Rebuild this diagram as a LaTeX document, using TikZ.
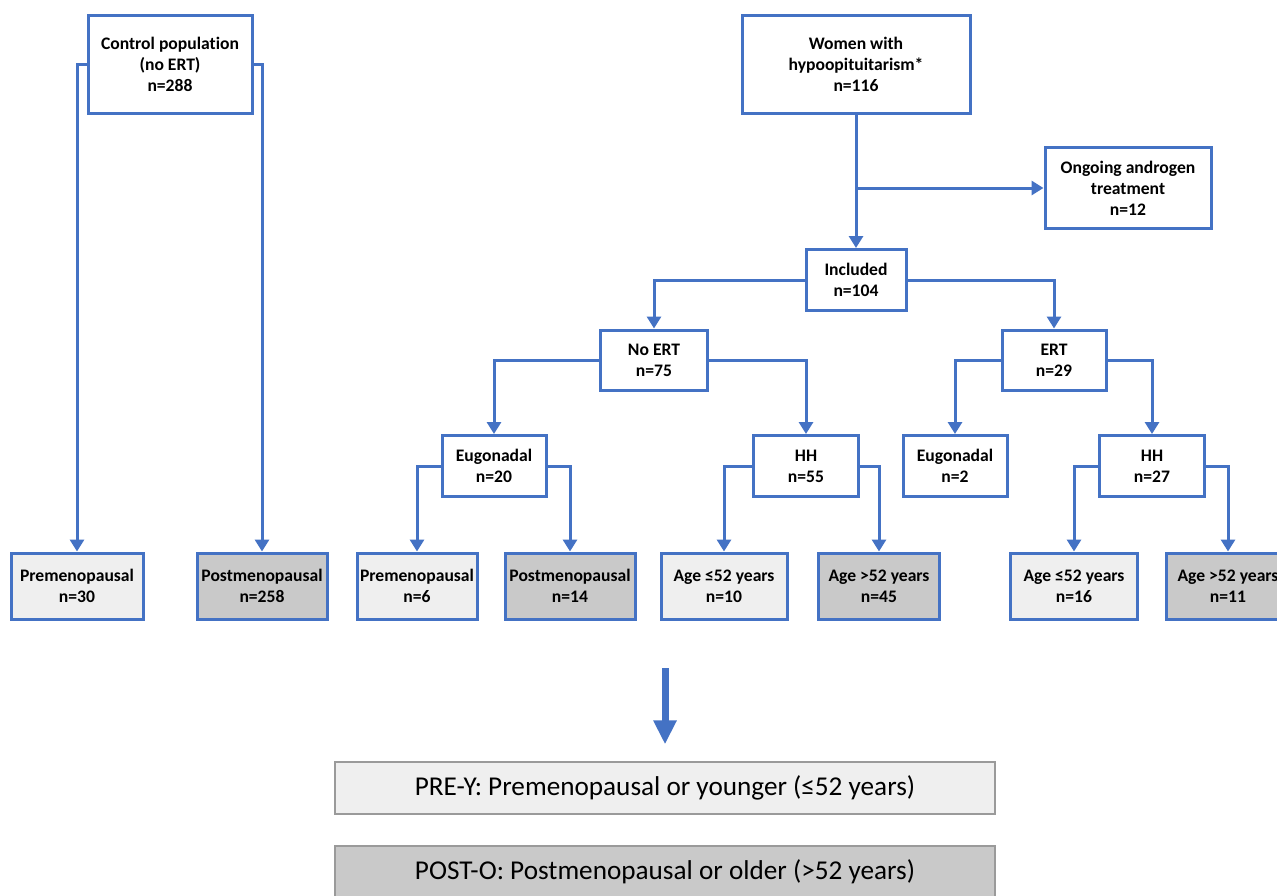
\documentclass[tikz,border=0pt]{standalone}
\usepackage{fontspec}
\setmainfont[Ligatures=NoCommon]{Carlito}
\usetikzlibrary{arrows.meta}
\definecolor{flowblue}{HTML}{4472C4}
\definecolor{prefill}{HTML}{EFEFEF}
\definecolor{postfill}{HTML}{C9C9C9}
\definecolor{groupline}{HTML}{9A9A9A}
\tikzset{
  stage/.style={rectangle,draw=flowblue,line width=1.5pt,fill=white,align=center,
    inner sep=1pt,font=\fontsize{8.8}{10.5}\selectfont\bfseries},
  leafpre/.style={stage,fill=prefill,minimum width=64pt,minimum height=33pt},
  leafpost/.style={stage,fill=postfill,minimum width=64pt,minimum height=33pt},
  group/.style={rectangle,draw=groupline,line width=0.7pt,minimum width=330pt,
    minimum height=26pt,font=\fontsize{13.6}{16}\selectfont},
  link/.style={draw=flowblue,line width=1.5pt,-{Triangle[width=7pt,length=6pt]}},
  bigarrow/.style={draw=flowblue,line width=3.5pt,-{Triangle[width=11pt,length=12pt]}}
}
\begin{document}
\begin{tikzpicture}[x=0.5pt,y=-0.5pt]
\useasboundingbox (0,0) rectangle (1277,895);
\clip (0,0) rectangle (1277,895);
% top level
\node (ctrl) at (170,64) [stage,minimum width=82pt,minimum height=49pt] {Control population\\(no ERT)\\n=288};
\node (women) at (856,64) [stage,minimum width=114pt,minimum height=49pt] {Women with\\hypoopituitarism*\\n=116};
\node (andro) at (1128,188) [stage,minimum width=83pt,minimum height=40.5pt] {Ongoing androgen\\treatment\\n=12};
\node (incl) at (856,280) [stage,minimum width=50pt,minimum height=30.5pt] {Included\\n=104};
\node (noert) at (654,360) [stage,minimum width=53.5pt,minimum height=30pt] {No ERT\\n=75};
\node (ert) at (1054,360) [stage,minimum width=52pt,minimum height=30pt] {ERT\\n=29};
\node (eugoA) at (494,466) [stage,minimum width=52pt,minimum height=30.5pt] {Eugonadal\\n=20};
\node (hhA) at (806,466) [stage,minimum width=52.5pt,minimum height=30.5pt] {HH\\n=55};
\node (eugoB) at (955,466) [stage,minimum width=52pt,minimum height=30.5pt] {Eugonadal\\n=2};
\node (hhB) at (1152,466) [stage,minimum width=52.5pt,minimum height=30.5pt] {HH\\n=27};
% leaves
\node (preC) at (77,586) [leafpre,minimum width=66pt] {Premenopausal\\n=30};
\node (postC) at (262,586) [leafpost,minimum width=65pt] {Postmenopausal\\n=258};
\node (preA) at (417,586) [leafpre,minimum width=60pt] {Premenopausal\\n=6};
\node (postA) at (570,586) [leafpost,minimum width=65pt] {Postmenopausal\\n=14};
\node (youngA) at (724,586) [leafpre,minimum width=63pt] {Age ≤52 years\\n=10};
\node (oldA) at (879,586) [leafpost,minimum width=60.5pt] {Age >52 years\\n=45};
\node (youngB) at (1074,586) [leafpre,minimum width=63.5pt] {Age ≤52 years\\n=16};
\node (oldB) at (1228,586) [leafpost,minimum width=62pt] {Age >52 years\\n=11};
% groups
\node (grpre) at (665,788) [group,fill=prefill] {PRE-Y: Premenopausal or younger (≤52 years)};
\node (grpost) at (665,872) [group,fill=postfill] {POST-O: Postmenopausal or older (>52 years)};
\coordinate (bigtop) at (665,668);
% connectors
\draw[link] (ctrl.west) -| (preC.north);
\draw[link] (ctrl.east) -| (postC.north);
\draw[link] (women.south) -- (incl.north);
\draw[link] (women.south |- andro.west) -- (andro.west);
\draw[link] (incl.west) -| (noert.north);
\draw[link] (incl.east) -| (ert.north);
\draw[link] (noert.west) -| (eugoA.north);
\draw[link] (noert.east) -| (hhA.north);
\draw[link] (ert.west) -| (eugoB.north);
\draw[link] (ert.east) -| (hhB.north);
\draw[link] (eugoA.west) -| (preA.north);
\draw[link] (eugoA.east) -| (postA.north);
\draw[link] (hhA.west) -| (youngA.north);
\draw[link] (hhA.east) -| (oldA.north);
\draw[link] (hhB.west) -| (youngB.north);
\draw[link] (hhB.east) -| (oldB.north);
\draw[bigarrow,shorten >=8.5pt] (bigtop) -- (grpre.north);
\end{tikzpicture}
\end{document}
